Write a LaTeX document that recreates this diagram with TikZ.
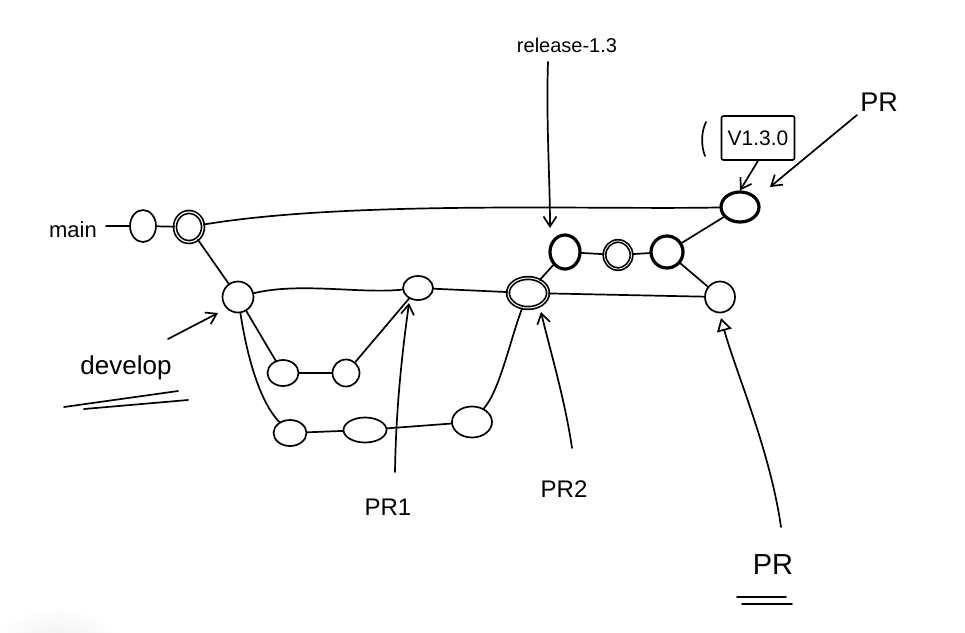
\documentclass[tikz,border=0pt]{standalone}
\usepackage{fontspec}
\setmainfont{Liberation Sans}
\usetikzlibrary{shapes.geometric,arrows.meta}
\begin{document}
\begin{tikzpicture}[x=1pt,y=-1pt,line cap=round,line join=round,
  every path/.style={line width=1.7pt},
  commit/.style={draw,ellipse,inner sep=0pt,line width=1.7pt},
  heavy/.style={commit,line width=3.2pt},
  edge/.style={line width=1.7pt},
  pointer/.style={line width=1.7pt,-{Straight Barb[length=10pt,width=13pt,line width=1.7pt]}},
  lbl/.style={inner sep=0pt}
]
\path[use as bounding box,fill=white] (0,0) rectangle (965,632);
\shade[inner color=black!12,outer color=white,draw=none] (58,690) circle (85);
% commits
\node[commit,minimum width=26pt,minimum height=32pt] (m0) at (143,226) {};
\node[commit,minimum width=28pt,minimum height=30pt,double,double distance=1.2pt] (m1) at (189,227) {};
\node[commit,minimum width=31pt,minimum height=31pt] (d0) at (238,297) {};
\node[commit,minimum width=30pt,minimum height=24pt] (a1) at (418,288) {};
\node[commit,minimum width=31pt,minimum height=26pt] (f1) at (283,373) {};
\node[commit,minimum width=27pt,minimum height=27pt] (f2) at (346,373) {};
\node[commit,minimum width=33pt,minimum height=26pt] (g1) at (290,433) {};
\node[commit,minimum width=43pt,minimum height=25pt] (g2) at (365,430) {};
\node[commit,minimum width=40pt,minimum height=31pt] (g3) at (472,422) {};
\node[commit,minimum width=40pt,minimum height=30pt,double,double distance=1pt] (r0) at (528,293) {};
\node[heavy,minimum width=30pt,minimum height=34pt] (r1) at (565,252) {};
\node[commit,minimum width=27pt,minimum height=28pt,double,double distance=0.8pt] (r2) at (618,255) {};
\node[heavy,minimum width=32pt,minimum height=32pt] (r3) at (667,252) {};
\node[commit,minimum width=30pt,minimum height=31pt] (h) at (720,297) {};
\node[heavy,minimum width=38pt,minimum height=30pt] (v) at (740,207) {};
% labels
\node[lbl,font=\fontsize{22}{24}\selectfont] (mainlbl) at (73,230) {main};
\coordinate (mainL) at (106,226);
\node[lbl,font=\fontsize{26}{28}\selectfont] (dev) at (126,368) {develop};
\node[lbl,font=\fontsize{20}{22}\selectfont] (rel) at (567,45) {release-1.3};
\node[draw,rounded corners=2pt,minimum width=73pt,minimum height=44pt,font=\fontsize{21}{23}\selectfont] (tag) at (758,138) {V1.3.0};
\node[lbl,font=\fontsize{27}{29}\selectfont] (prtop) at (879,102) {PR};
\node[lbl,font=\fontsize{24}{26}\selectfont] (pr1) at (388,507) {PR1};
\node[lbl,font=\fontsize{24}{26}\selectfont] (pr2) at (564,489) {PR2};
\node[lbl,font=\fontsize{29}{31}\selectfont] (prbot) at (773,565) {PR};
% bracket left of tag
\draw (706,122) .. controls (701,132) and (701,146) .. (705,156);
% main line
\draw[edge] (mainL) -- (m0);
\draw[edge] (m0) -- (m1);
\draw[edge] (m1) .. controls (350,200) and (600,210) .. (v);
\draw[edge] (m1) -- (d0);
% develop
\draw[edge] (d0) .. controls (300,282) and (360,294) .. (a1);
\draw[edge] (d0) -- (f1);
\draw[edge] (f1) -- (f2);
\draw[edge] (f2) -- (a1);
\draw[edge] (d0) .. controls (246,350) and (258,400) .. (g1);
\draw[edge] (g1) -- (g2);
\draw[edge] (g2) -- (g3);
\draw[edge] (g3) .. controls (500,390) and (510,340) .. (r0);
\draw[edge] (a1) -- (r0);
% release
\draw[edge] (r0) -- (r1);
\draw[edge] (r1) -- (r2);
\draw[edge] (r2) -- (r3);
\draw[edge] (r3) -- (v);
\draw[edge] (r3) -- (h);
\draw[edge] (r0) -- (h);
% pointers
\coordinate (devA) at (168,339);
\draw[pointer] (devA) -- (218,313);
\draw (64,407) -- (178,391);
\draw (84,409) -- (188,400);
\coordinate (relA) at (548,62);
\draw[pointer] (relA) .. controls (546,120) and (550,180) .. (550,228);
\draw[pointer] (tag.south) -- (v.north);
\coordinate (prA) at (857,115);
\draw[pointer] (prA) -- (770,187);
\coordinate (pr1A) at (395,472);
\draw[pointer] (pr1A) .. controls (396,400) and (404,340) .. (409,303);
\coordinate (pr2A) at (572,448);
\draw[pointer] (pr2A) .. controls (565,400) and (550,350) .. (541,312);
\coordinate (prbA) at (781,527);
\draw[line width=1.7pt,-{Triangle[open,length=13pt,width=15pt,line width=1.7pt]}] (prbA) .. controls (770,450) and (735,370) .. (721,318);
\draw (737,597) -- (786,597);
\draw (742,604) -- (792,604);
\end{tikzpicture}
\end{document}
